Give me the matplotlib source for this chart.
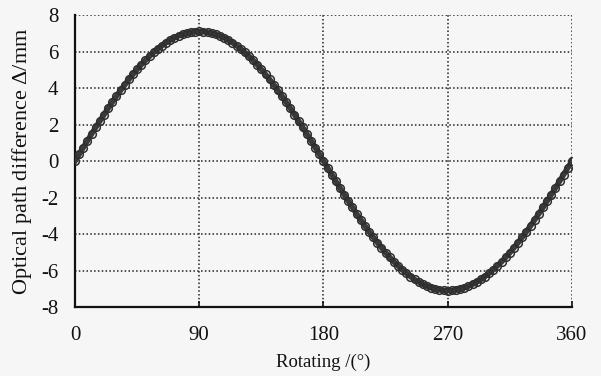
import matplotlib
matplotlib.use("Agg")
import matplotlib.pyplot as plt

plt.rcParams['font.family'] = ['Liberation Serif', 'DejaVu Serif']
plt.rcParams['axes.unicode_minus'] = False
plt.rcParams['mathtext.fontset'] = 'custom'
plt.rcParams['mathtext.rm'] = 'Liberation Serif'
plt.rcParams['mathtext.it'] = 'Liberation Serif:italic'

# Rotation angle (degrees), read every 3 degrees
angle = list(range(0, 361, 3))
# Optical path difference (mm)
opd = [0, 0.37, 0.74, 1.11, 1.48, 1.84, 2.19, 2.54, 2.89, 3.22, 3.55, 3.87, 4.17, 4.47,
       4.75, 5.02, 5.28, 5.52, 5.74, 5.95, 6.15, 6.33, 6.49, 6.63, 6.75, 6.86, 6.94, 7.01,
       7.06, 7.09, 7.10,
       7.09, 7.06, 7.01, 6.94, 6.86, 6.75, 6.63, 6.49, 6.33, 6.15, 5.95, 5.74, 5.52, 5.28,
       5.02, 4.75, 4.47, 4.17, 3.87, 3.55, 3.22, 2.89, 2.54, 2.19, 1.84, 1.48, 1.11, 0.74,
       0.37, 0,
       -0.37, -0.74, -1.11, -1.48, -1.84, -2.19, -2.54, -2.89, -3.22, -3.55, -3.87, -4.17,
       -4.47, -4.75, -5.02, -5.28, -5.52, -5.74, -5.95, -6.15, -6.33, -6.49, -6.63, -6.75,
       -6.86, -6.94, -7.01, -7.06, -7.09, -7.10,
       -7.09, -7.06, -7.01, -6.94, -6.86, -6.75, -6.63, -6.49, -6.33, -6.15, -5.95, -5.74,
       -5.52, -5.28, -5.02, -4.75, -4.47, -4.17, -3.87, -3.55, -3.22, -2.89, -2.54, -2.19,
       -1.84, -1.48, -1.11, -0.74, -0.37, 0]

xticks = [0, 90, 180, 270, 360]
yticks = [-8, -6, -4, -2, 0, 2, 4, 6, 8]
xlabel = "Rotating /(°)"
ylabel = "Optical path difference $\\mathit{\\Delta}$/mm"

bg = '#f6f6f6'
fig = plt.figure(figsize=(6.01, 3.76), dpi=100, facecolor=bg)
ax = fig.add_axes([0.1248, 0.1835, 0.8269, 0.7765], facecolor=bg)

ax.plot(angle, opd, color='#3a3a3a', lw=4.0, zorder=3)
ax.plot(angle, opd, linestyle='none', marker='o', markersize=5.5, markerfacecolor='none',
        markeredgecolor='#2e2e2e', markeredgewidth=1.1, zorder=4)

ax.set_xlim(0, 360)
ax.set_ylim(-8, 8)
ax.set_xticks(xticks)
ax.set_yticks(yticks)
ax.grid(True, color='#222222', linestyle=(0, (1, 1.5)), linewidth=1.1)
for s in ['top', 'right']:
    ax.spines[s].set_visible(False)
for s in ['left', 'bottom']:
    ax.spines[s].set_linewidth(1.6)
    ax.spines[s].set_color('#111111')
ax.tick_params(axis='x', direction='in', length=4, width=1.2, labelsize=15, pad=14, colors='#111111')
ax.tick_params(axis='y', length=0, labelsize=15, pad=12, colors='#111111')
ax.set_xlabel(xlabel, fontsize=13.5, labelpad=6, color='#111111')
ax.set_ylabel(ylabel, fontsize=16, labelpad=5, color='#111111')

fig.savefig('out.png', dpi=100, facecolor=bg)
